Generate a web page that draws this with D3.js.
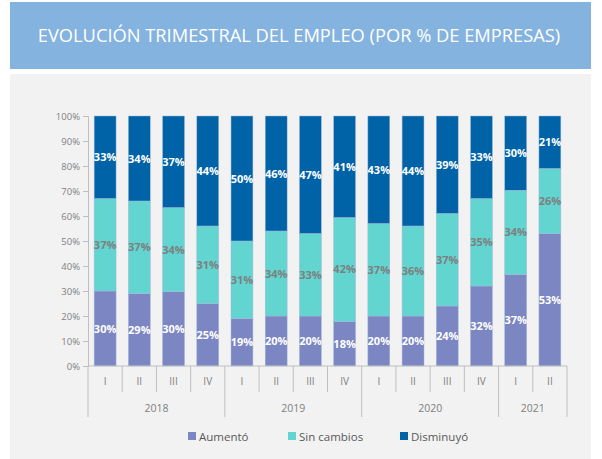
<!DOCTYPE html>
<html>
<head>
<meta charset="utf-8">
<script src="https://cdn.jsdelivr.net/npm/d3@7"></script>
<style>
  body { margin: 0; background: #fff; }
  svg { display: block; font-family: "Open Sans", sans-serif; }
</style>
</head>
<body>
<div id="chart"></div>
<script>
// datos
let quarters = ["I", "II", "III", "IV", "I", "II", "III", "IV", "I", "II", "III", "IV", "I", "II"]
let years = ["2018", "2018", "2018", "2018", "2019", "2019", "2019", "2019", "2020", "2020", "2020", "2020", "2021", "2021"]
let yearLabels = ["2018", "2019", "2020", "2021"]
let aumento = [30, 29, 30, 25, 19, 20, 20, 18, 20, 20, 24, 32, 37, 53]
let sinCambios = [37, 37, 34, 31, 31, 34, 33, 42, 37, 36, 37, 35, 34, 26]
let disminuyo = [33, 34, 37, 44, 50, 46, 47, 41, 43, 44, 39, 33, 30, 21]
let seriesNames = ["Aumentó", "Sin cambios", "Disminuyó"]
let yTicks = [0, 0.1, 0.2, 0.3, 0.4, 0.5, 0.6, 0.7, 0.8, 0.9, 1]

let colors = ["#7b86c2", "#62d5d1", "#0063a8"]
let labelColors = ["#ffffff", "#7f7f7f", "#ffffff"]

let W = 602, H = 459
let margin = {top: 116, left: 88, right: 35, bottom: 93}

let svg = d3.select("#chart").append("svg")
    .attr("width", W)
    .attr("height", H)

// title banner + panel
svg.append("rect").attr("x", 10).attr("y", 2).attr("width", 581).attr("height", 67).attr("fill", "#84b3e0")
svg.append("text")
    .attr("x", 299).attr("y", 42)
    .attr("text-anchor", "middle")
    .attr("fill", "#ffffff")
    .style("font-size", "18.3px")
    .text("EVOLUCIÓN TRIMESTRAL DEL EMPLEO (POR % DE EMPRESAS)")
svg.append("rect").attr("x", 10).attr("y", 74).attr("width", 581).attr("height", 385).attr("fill", "#f2f2f2")

let rows = quarters.map((q, i) => ({
    idx: i, q: q, year: years[i],
    "Aumentó": aumento[i], "Sin cambios": sinCambios[i], "Disminuyó": disminuyo[i]
}))

let stacked = d3.stack().keys(seriesNames).offset(d3.stackOffsetExpand)(rows)

let y0 = 366, y1 = 116

let x = d3.scaleBand()
    .domain(rows.map(d => d.idx))
    .range([margin.left, margin.left + 479])
    .paddingInner(0.36)
    .paddingOuter(0.18)

let y = d3.scaleLinear().domain([0, 1]).range([y0, y1])

let g = svg.append("g")

stacked.forEach((layer, k) => {
    g.selectAll(".bar" + k).data(layer).enter()
        .append("rect")
        .attr("x", d => x(d.data.idx))
        .attr("width", x.bandwidth())
        .attr("y", d => y(d[1]))
        .attr("height", d => y(d[0]) - y(d[1]))
        .attr("fill", colors[k])
        .attr("stroke", "#9fb8d8")
        .attr("stroke-width", 0.5)

    g.selectAll(".lab" + k).data(layer).enter()
        .append("text")
        .attr("x", d => x(d.data.idx) + x.bandwidth() / 2)
        .attr("y", d => (y(d[0]) + y(d[1])) / 2 + 4)
        .attr("text-anchor", "middle")
        .attr("fill", labelColors[k])
        .style("font-size", "11px")
        .style("font-weight", "bold")
        .text(d => d.data[seriesNames[k]] + "%")
})

// y axis
let yAxis = d3.axisLeft(y).tickValues(yTicks).tickFormat(d3.format(".0%")).tickSizeOuter(0).tickSize(5).tickPadding(3)
let ya = svg.append("g").attr("transform", "translate(" + margin.left + ",0)").call(yAxis)
ya.select(".domain").attr("stroke", "#bfbfbf")
ya.selectAll(".tick line").attr("stroke", "#bfbfbf")
ya.selectAll(".tick text").attr("fill", "#7f7f7f").style("font-size", "9.5px").style("font-family", "Open Sans, sans-serif")

// x axis (two levels)
let xa = svg.append("g")
let step = x.step()
let xStart = margin.left
let xEnd = margin.left + 479
xa.append("line").attr("x1", xStart).attr("x2", xEnd).attr("y1", y0).attr("y2", y0).attr("stroke", "#bfbfbf")

let bounds = d3.range(rows.length + 1).map(i => i === rows.length ? xEnd : x(i) - x.paddingInner() * step / 2 * (i === 0 ? 0 : 1) - (i === 0 ? x.paddingOuter() * step : 0))

bounds.forEach((bx, i) => {
    let isYear = i === 0 || i === rows.length || years[i] !== years[i - 1]
    xa.append("line")
        .attr("x1", bx).attr("x2", bx)
        .attr("y1", y0).attr("y2", isYear ? 417 : 392)
        .attr("stroke", "#bfbfbf")
})

xa.selectAll(".qlab").data(rows).enter()
    .append("text")
    .attr("x", d => x(d.idx) + x.bandwidth() / 2)
    .attr("y", 385)
    .attr("text-anchor", "middle")
    .attr("fill", "#7f7f7f")
    .style("font-size", "10px")
    .text(d => d.q)

yearLabels.forEach(yr => {
    let idxs = rows.filter(d => d.year === yr).map(d => d.idx)
    let a = bounds[idxs[0]], b = bounds[idxs[idxs.length - 1] + 1]
    xa.append("text")
        .attr("x", (a + b) / 2)
        .attr("y", 412)
        .attr("text-anchor", "middle")
        .attr("fill", "#7f7f7f")
        .style("font-size", "10.5px")
        .text(yr)
})

// legend
let legX = [188, 288, 400]
let leg = svg.append("g")
seriesNames.forEach((n, k) => {
    leg.append("rect").attr("x", legX[k]).attr("y", 432).attr("width", 8).attr("height", 8).attr("fill", colors[k])
    leg.append("text").attr("x", legX[k] + 11).attr("y", 440.5)
        .attr("fill", "#595959")
        .style("font-size", "11.5px")
        .text(n)
})
</script>
</body>
</html>
